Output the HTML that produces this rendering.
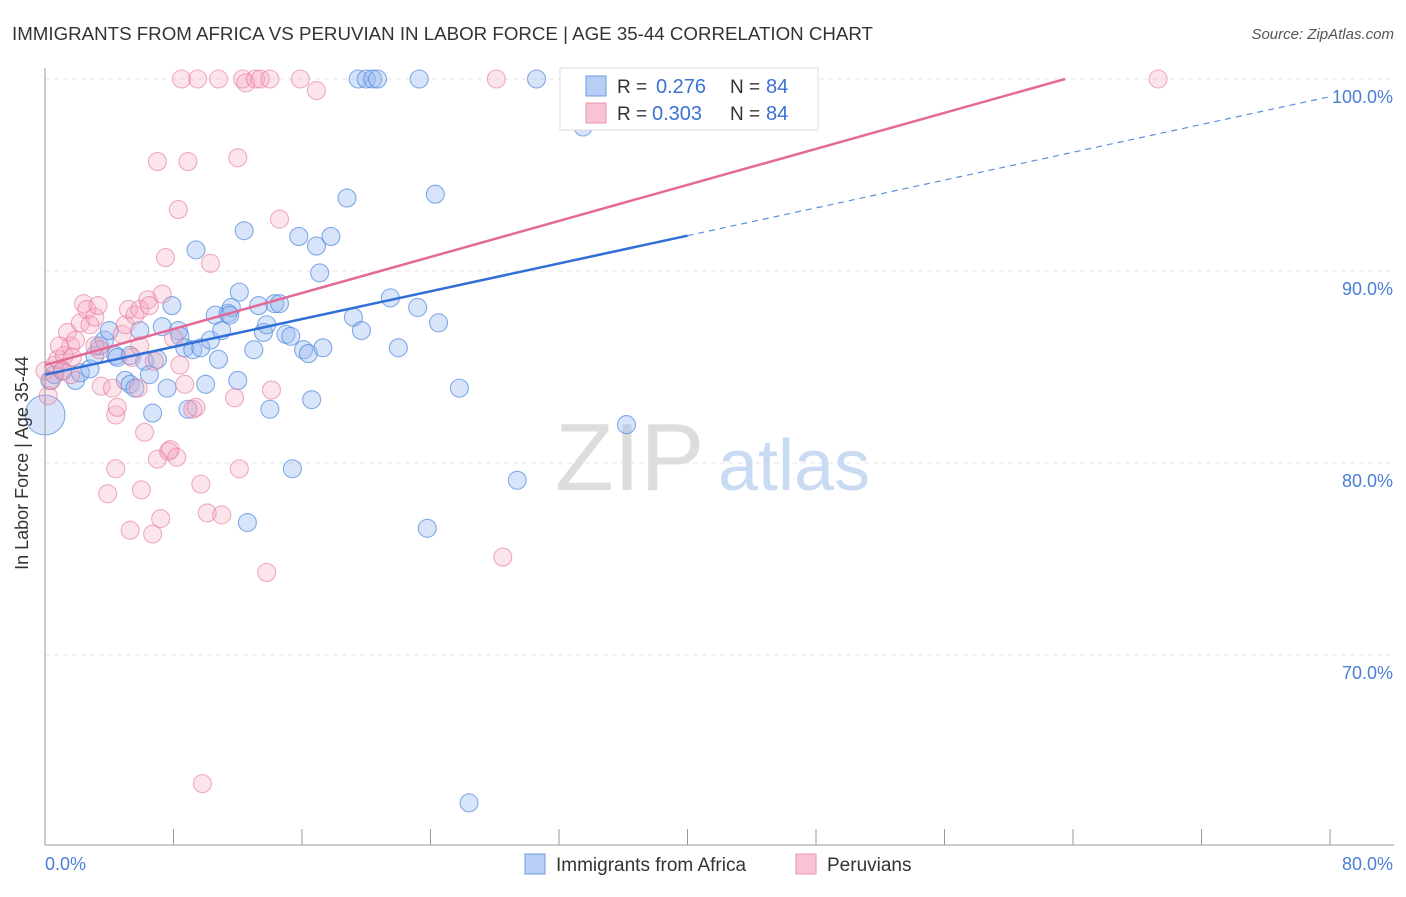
<!DOCTYPE html>
<html><head><meta charset="utf-8"><style>
body{margin:0;background:#fff;font-family:"Liberation Sans",sans-serif}
svg text{font-family:"Liberation Sans",sans-serif}
</style></head><body>
<svg id="chart" width="1406" height="892" xmlns="http://www.w3.org/2000/svg">
<text x="12" y="40" font-size="18.5" fill="#333" textLength="861" lengthAdjust="spacingAndGlyphs">IMMIGRANTS FROM AFRICA VS PERUVIAN IN LABOR FORCE | AGE 35-44 CORRELATION CHART</text>
<text x="1394" y="39" font-size="15" fill="#555" font-style="italic" text-anchor="end">Source: ZipAtlas.com</text>
<g id="grid"></g>
<text x="555" y="490" font-size="96" fill="#ddd" font-family="Liberation Serif">ZIP</text>
<text x="718" y="490" font-size="72" fill="#c9dbf2">atlas</text>
<g id="pts"></g>
<g id="lines"></g>
<line x1="45" y1="68" x2="45" y2="845" stroke="#999"/>
<line x1="45" y1="845" x2="1394" y2="845" stroke="#999"/>
<g id="ticks"></g>
<text x="22" y="457" font-size="18" fill="#333" text-anchor="middle" transform="rotate(-90 28 457)">In Labor Force | Age 35-44</text>
<text x="45" y="870" font-size="18" fill="#4a7fd6">0.0%</text>
<text x="1393" y="870" font-size="18" fill="#4a7fd6" text-anchor="end">80.0%</text>
<g>
<rect x="560" y="68" width="258" height="62" fill="#fff" stroke="#ddd"/>
<rect x="586" y="76" width="20" height="20" fill="#b8cff5" stroke="#6b9be0"/>
<rect x="586" y="103" width="20" height="20" fill="#f8c4d4" stroke="#ec93b0"/>
<text x="617" y="93" font-size="19" fill="#333">R =</text><text x="656" y="93" font-size="20" fill="#3a72d4">0.276</text>
<text x="730" y="93" font-size="19" fill="#333">N =</text><text x="766" y="93" font-size="20" fill="#3a72d4">84</text>
<text x="617" y="120" font-size="19" fill="#333">R =</text><text x="652" y="120" font-size="20" fill="#3a72d4">0.303</text>
<text x="730" y="120" font-size="19" fill="#333">N =</text><text x="766" y="120" font-size="20" fill="#3a72d4">84</text>
</g>
<g>
<rect x="525" y="854" width="20" height="20" fill="#b8cff5" stroke="#6b9be0"/>
<text x="556" y="871" font-size="19" fill="#333">Immigrants from Africa</text>
<rect x="796" y="854" width="20" height="20" fill="#f8c4d4" stroke="#ec93b0"/>
<text x="827" y="871" font-size="19" fill="#333">Peruvians</text>
</g>
</svg>
<script>
const yTicks=[100,90,80,70];
const yTickLabels=["100.0%","90.0%","80.0%","70.0%"];
const xTicks=[0,8,16,24,32,40,48,56,64,72,80];
const blueX=[0,0.3,0.6,1.1,1.9,2.2,2.8,3.1,3.4,3.7,4.0,4.4,4.5,5.0,5.3,5.6,5.9,6.2,6.5,6.7,7.0,7.3,7.6,7.9,8.3,8.4,8.7,8.9,9.2,9.4,9.7,10.0,10.3,10.6,10.8,11.0,11.4,11.6,12.0,12.1,12.4,12.6,13.0,13.3,13.6,13.8,14.0,14.3,14.6,15.0,15.3,15.4,15.8,16.1,16.4,16.6,16.9,17.1,17.3,17.8,18.8,19.2,19.7,19.5,20.0,20.4,20.7,21.5,22.0,23.2,23.3,23.8,24.3,24.5,25.8,26.4,29.4,30.6,33.1,33.5,36.2,11.5,5.3];
const blueY=[82.5,84.3,84.6,84.8,84.3,84.7,84.9,85.6,86.1,86.4,86.9,85.6,85.5,84.3,84.1,83.9,86.9,85.3,84.6,82.6,85.4,87.1,83.9,88.2,86.9,86.6,86.0,82.8,85.9,91.1,86.0,84.1,86.4,87.7,85.4,86.9,87.8,88.1,84.3,88.9,92.1,76.9,85.9,88.2,86.8,87.2,82.8,88.3,88.3,86.7,86.6,79.7,91.8,85.9,85.7,83.3,91.3,89.9,86.0,91.8,93.8,87.6,86.9,100,100,100,100,88.6,86.0,88.1,100,76.6,94.0,87.3,83.9,62.3,79.1,100,100,97.5,82.0,87.7,85.6];
const pinkX=[0,0.2,0.4,0.6,0.8,1.1,1.2,1.4,1.6,1.7,1.9,2.2,2.4,2.6,2.8,3.1,3.3,3.4,3.5,3.9,4.2,4.4,4.5,4.4,4.8,5.0,5.2,5.3,5.4,5.6,5.8,5.9,6.0,6.2,6.4,6.5,6.7,6.8,7.0,7.0,7.2,7.3,7.5,7.7,7.8,8.0,8.2,8.3,8.4,8.5,8.7,8.9,9.2,9.4,9.5,9.7,9.8,10.1,10.3,10.8,11.0,11.8,12.0,12.1,12.3,12.5,13.1,13.4,13.8,14.0,14.1,14.6,15.9,16.9,28.1,28.5,69.3,5.9,3.1,1.6,0.9];
const pinkY=[84.8,83.5,84.3,85.1,85.4,84.8,85.6,86.8,86.1,85.5,86.4,87.3,88.3,88.0,87.2,87.6,88.2,85.9,84.0,78.4,83.9,82.5,82.9,79.7,86.7,87.2,88.0,76.5,85.5,87.7,83.9,88.0,78.6,81.6,88.5,88.2,76.3,85.3,80.2,95.7,77.1,88.8,90.7,80.6,80.7,86.5,80.3,93.2,85.1,100,84.1,95.7,82.8,82.9,100,78.9,63.3,77.4,90.4,100,77.3,83.4,95.9,79.7,100,99.8,100,100,74.3,100,83.8,92.7,100,99.4,100,75.1,100,86.1,86.1,84.6,86.1];
const blueTrend=[84.6,0.181];
const pinkTrend=[85.1,0.2346];
const NS="http://www.w3.org/2000/svg";
const sx=v=>45+v/80*1285;
const sy=v=>79+(100-v)*19.2;
function mk(tag,attrs,parent){const e=document.createElementNS(NS,tag);for(const k in attrs)e.setAttribute(k,attrs[k]);parent.appendChild(e);return e;}
const grid=document.getElementById('grid');
yTicks.forEach((t,i)=>{
  const l=mk('line',{x1:45,x2:1394,y1:sy(t),y2:sy(t),stroke:'#e6e6e6','stroke-dasharray':'5,4'},grid);
  
  
  const tx=mk('text',{x:1393,y:sy(t)+24,'font-size':18,fill:'#4a7fd6','text-anchor':'end'},grid);
  tx.textContent=yTickLabels[i];
  
  
});
const ticks=document.getElementById('ticks');
xTicks.forEach(t=>{
  const l=mk('line',{x1:sx(t),x2:sx(t),y1:829,y2:845,stroke:'#999'},ticks);
  
  
});
const pts=document.getElementById('pts');
function drawPts(X,Y,fill,stroke,name,bigFirst){
  X.forEach((x,i)=>{
    const big=(bigFirst&&i===0);
    const c=mk('circle',{cx:sx(x),cy:sy(Y[i]),r:big?20:9,fill:fill,stroke:stroke,'stroke-width':1.1},pts);
    
    
  });
}
drawPts(blueX,blueY,'rgba(150,185,240,0.38)','rgba(70,130,220,0.65)','point-africa',true);
drawPts(pinkX,pinkY,'rgba(245,165,190,0.3)','rgba(232,120,155,0.6)','point-peruvians',false);
const lines=document.getElementById('lines');
const bEnd=40;
let l=mk('line',{x1:sx(0),y1:sy(blueTrend[0]),x2:sx(bEnd),y2:sy(blueTrend[0]+blueTrend[1]*bEnd),stroke:'#2f6fd6','stroke-width':2.5},lines);


l=mk('line',{x1:sx(bEnd),y1:sy(blueTrend[0]+blueTrend[1]*bEnd),x2:sx(80),y2:sy(blueTrend[0]+blueTrend[1]*80),stroke:'#5b8fdc','stroke-width':1.2,'stroke-dasharray':'6,5'},lines);


const pEnd=(100-pinkTrend[0])/pinkTrend[1];
l=mk('line',{x1:sx(0),y1:sy(pinkTrend[0]),x2:sx(pEnd),y2:sy(100),stroke:'#e46a96','stroke-width':2.5},lines);


</script>
</body></html>
